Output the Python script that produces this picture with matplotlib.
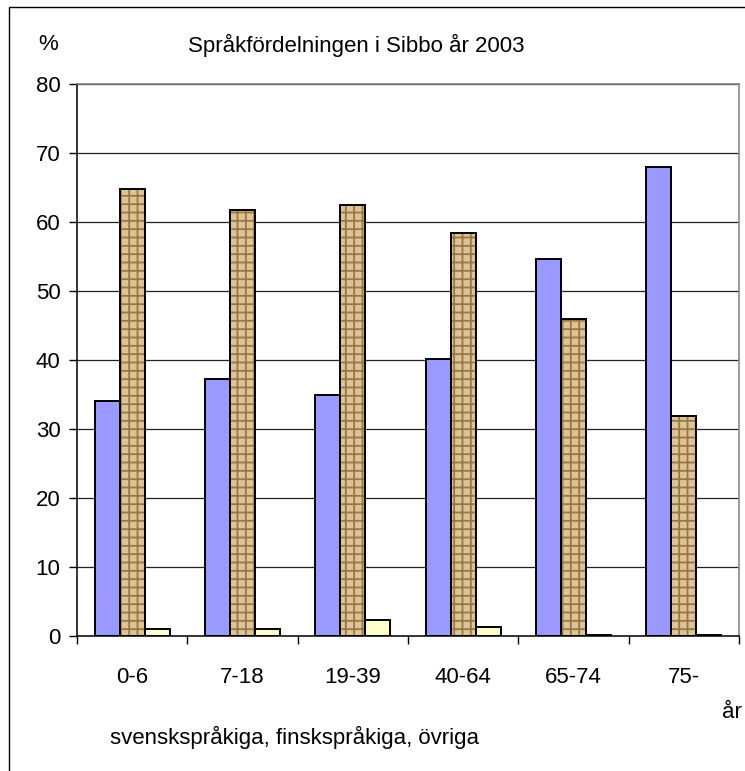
import numpy as np
import matplotlib
matplotlib.use('Agg')
import matplotlib.pyplot as plt
from matplotlib.patches import Rectangle

plt.rcParams['font.family'] = ['Liberation Sans', 'DejaVu Sans']

# Data -----------------------------------------------------------------
categories = ['0-6', '7-18', '19-39', '40-64', '65-74', '75-']
svensk = [34.1, 37.3, 35.0, 40.2, 54.6, 68.0]
finsk = [64.8, 61.8, 62.5, 58.4, 45.9, 31.9]
ovriga = [1.0, 1.0, 2.3, 1.3, 0.2, 0.2]
yticks = [0, 10, 20, 30, 40, 50, 60, 70, 80]

FS = 16  # font size used for all text

# Figure ---------------------------------------------------------------
fig = plt.figure(figsize=(7.45, 7.71), dpi=100)
ax = fig.add_axes([0.1034, 0.1751, 0.8886, 0.7159])

x = np.arange(len(categories))
w = 0.227

ax.bar(x - w, svensk, w, color='#9999ff', edgecolor='black', linewidth=1.4, zorder=3)
# textured (finsk) bars: hatch in brown, then black outline on top
plt.rcParams['hatch.linewidth'] = 1.3
ax.bar(x, finsk, w, color='#dcc497', edgecolor='#9a7845', hatch='++',
       linewidth=0, zorder=3)
ax.bar(x, finsk, w, fill=False, edgecolor='black', linewidth=1.4, zorder=4)
ax.bar(x + w, ovriga, w, color='#ffffcc', edgecolor='black', linewidth=1.4, zorder=3)

ax.set_xlim(-0.5, len(categories) - 0.5)
ax.set_ylim(0, 80)
ax.set_yticks(yticks)
ax.yaxis.grid(True, color='#222222', linewidth=0.9, zorder=0)
ax.set_axisbelow(True)

ax.set_xticks(x)
ax.set_xticklabels(categories)
ax.set_xticks(np.arange(len(categories) + 1) - 0.5, minor=True)
ax.tick_params(axis='x', which='major', length=0, pad=22, labelsize=FS)
ax.tick_params(axis='x', which='minor', length=6, width=1, direction='out')
ax.tick_params(axis='y', length=6, width=1, direction='out', pad=6, labelsize=FS)

for s in ['left', 'bottom']:
    ax.spines[s].set_color('black')
    ax.spines[s].set_linewidth(1.1)
ax.spines['top'].set_color('#808080')
ax.spines['right'].set_color('#808080')
ax.spines['top'].set_linewidth(1.1)
ax.spines['right'].set_linewidth(1.1)

# texts
fig.text(48 / 745, 1 - 45 / 771, '%', fontsize=FS, ha='center', va='center')
fig.text(356 / 745, 1 - 45 / 771, 'Språkfördelningen i Sibbo år 2003',
         fontsize=FS, ha='center', va='center')
fig.text(722 / 745, 1 - 712 / 771, 'år', fontsize=FS, ha='left', va='center')
fig.text(110 / 745, 1 - 737 / 771, 'svenskspråkiga, finskspråkiga, övriga',
         fontsize=FS, ha='left', va='center')

# outer chart border (cut off at right and bottom)
fig.patches.append(Rectangle((9 / 745, -0.1), 1.2, 1 - 7 / 771 + 0.1,
                             transform=fig.transFigure, fill=False,
                             edgecolor='black', linewidth=1.0))

fig.savefig('out.png', dpi=100)
